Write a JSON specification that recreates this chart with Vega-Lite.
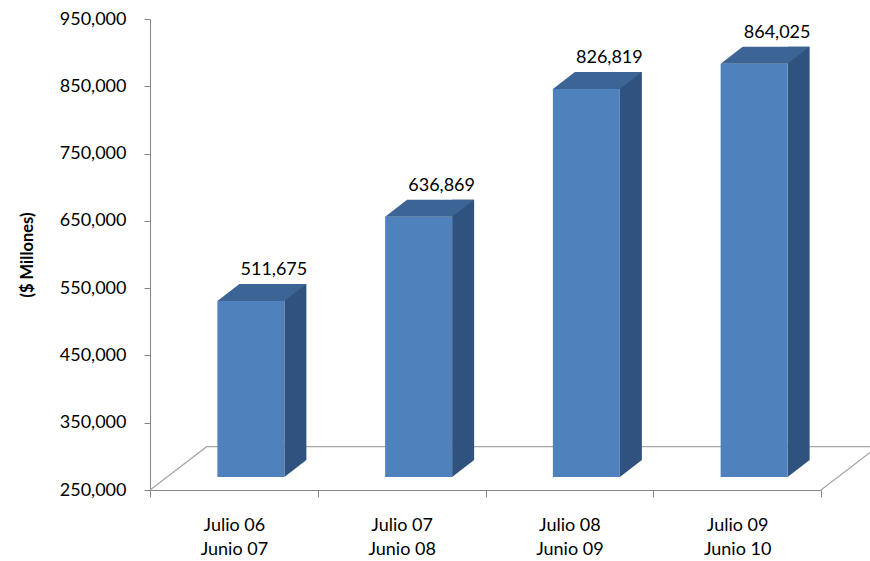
{
  "$schema": "https://vega.github.io/schema/vega-lite/v6.json",
  "width": 671,
  "height": 471,
  "autosize": "none",
  "padding": {"left": 150, "top": 19, "right": 49, "bottom": 71},
  "background": "white",
  "config": {"view": {"stroke": null}, "font": "Lato"},
  "data": {
    "values": [
      {"periodo": "Julio 06\nJunio 07", "valor": 511675},
      {"periodo": "Julio 07\nJunio 08", "valor": 636869},
      {"periodo": "Julio 08\nJunio 09", "valor": 826819},
      {"periodo": "Julio 09\nJunio 10", "valor": 864025}
    ]
  },
  "encoding": {
    "x": {
      "field": "periodo",
      "type": "nominal",
      "sort": null,
      "scale": {"paddingInner": 0, "paddingOuter": 0},
      "axis": {
        "title": null,
        "labelAngle": 0,
        "labelExpr": "split(datum.label, '\\n')",
        "labelFont": "Lato",
        "labelFontSize": 18,
        "labelColor": "#000000",
        "labelLineHeight": 24,
        "labelPadding": 19,
        "tickBand": "extent",
        "tickSize": 7,
        "tickColor": "#868686",
        "domainColor": "#868686",
        "grid": false
      }
    }
  },
  "layer": [
    {
      "data": {"values": [{"anchor": "floor"}]},
      "mark": {
        "type": "point",
        "shape": "M0,0 L56.7,-43.3 L727.7,-43.3 L671,0",
        "size": 4,
        "filled": false,
        "stroke": "#A6A6A6",
        "strokeWidth": 1.2,
        "opacity": 1
      },
      "encoding": {
        "x": {"datum": "Julio 06\nJunio 07", "bandPosition": 0},
        "y": {"datum": 250000, "type": "quantitative"}
      }
    },
    {
      "mark": {"type": "bar", "color": "#30527E", "size": 22, "xOffset": 61.5, "yOffset": -30, "y2Offset": -30},
      "encoding": {
        "y": {
          "field": "valor",
          "type": "quantitative",
          "scale": {"domain": [250000, 950000], "nice": false, "zero": false},
          "axis": {
            "title": "($ Millones)",
            "titleFont": "Lato",
            "titleFontSize": 16.5,
            "titleFontWeight": "bold",
            "titleColor": "#000000",
            "titlePadding": 24,
            "values": [250000, 350000, 450000, 550000, 650000, 750000, 850000, 950000],
            "labelExpr": "format(datum.value, ',')",
            "labelFont": "Lato",
            "labelFontSize": 18,
            "labelColor": "#000000",
            "labelPadding": 18,
            "tickSize": 6,
            "tickColor": "#868686",
            "domainColor": "#868686",
            "grid": false
          }
        },
        "y2": {"datum": 250000}
      }
    },
    {
      "mark": {
        "type": "point",
        "shape": "M50.5,-17 L50.5,0 L72.5,-17 Z",
        "size": 4,
        "filled": true,
        "color": "#30527E",
        "strokeWidth": 0,
        "opacity": 1,
        "yOffset": -13
      },
      "encoding": {
        "y": {"datum": 250000, "type": "quantitative"}
      }
    },
    {
      "mark": {"type": "bar", "color": "#4F81BD", "size": 67, "xOffset": 17, "yOffset": -13, "y2Offset": -13},
      "encoding": {
        "y": {"field": "valor", "type": "quantitative"},
        "y2": {"datum": 250000}
      }
    },
    {
      "mark": {
        "type": "point",
        "shape": "M-16.5,0 L50.5,0 L72.5,-17 L5.5,-17 Z",
        "size": 4,
        "filled": true,
        "color": "#3C6494",
        "strokeWidth": 0,
        "opacity": 1,
        "yOffset": -13
      },
      "encoding": {
        "y": {"field": "valor", "type": "quantitative"}
      }
    },
    {
      "mark": {"type": "text", "font": "Lato", "fontSize": 18, "color": "#000000", "dx": 40, "dy": -44, "baseline": "middle"},
      "encoding": {
        "y": {"field": "valor", "type": "quantitative"},
        "text": {"field": "valor", "type": "quantitative", "format": ","}
      }
    }
  ]
}
